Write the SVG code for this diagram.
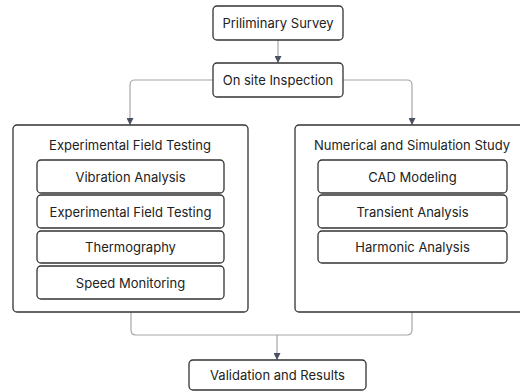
<svg xmlns="http://www.w3.org/2000/svg" width="520" height="392" viewBox="0 0 520 392">
<defs>
<style>
.box{fill:#fff;stroke:#333;stroke-width:1.3}
.t{font-family:Inter,"Liberation Sans",sans-serif;font-size:13px;fill:#222;text-anchor:middle;dominant-baseline:central}
.c{fill:none;stroke:#a6a6a6;stroke-width:1.2}
</style>
<marker id="ah" viewBox="0 0 10 10" refX="10" refY="5" markerWidth="7" markerHeight="7" orient="auto" markerUnits="userSpaceOnUse">
<path d="M0,0 L10,5 L0,10 z" fill="#4a5160"/>
</marker>
</defs>
<rect width="520" height="392" fill="#fff"/>
<g id="connectors">
<path class="c" d="M278,40 V63" marker-end="url(#ah)"/>
<path class="c" d="M213,80 H135 Q130,80 130,85 V125" marker-end="url(#ah)"/>
<path class="c" d="M343,80 H407 Q412,80 412,85 V125" marker-end="url(#ah)"/>
<path class="c" d="M131,312 V330 Q131,335 136,335 H407 Q412,335 412,330 V312"/>
<path class="c" d="M277,335 V360" marker-end="url(#ah)"/>
</g>
<g id="n1"><rect class="box" x="213" y="6" width="130" height="34" rx="4"/><text class="t" x="278" y="23">Priliminary Survey</text></g>
<g id="n2"><rect class="box" x="213" y="63" width="130" height="34" rx="4"/><text class="t" x="278" y="80">On site Inspection</text></g>
<g id="g1"><rect class="box" x="13" y="125" width="235" height="187" rx="4"/><text class="t" x="130" y="145">Experimental Field Testing</text></g>
<g id="n3"><rect class="box" x="37" y="160" width="187" height="33" rx="4"/><text class="t" x="130.5" y="176.5">Vibration Analysis</text></g>
<g id="n4"><rect class="box" x="37" y="195" width="187" height="33" rx="4"/><text class="t" x="130.5" y="211.5">Experimental Field Testing</text></g>
<g id="n5"><rect class="box" x="37" y="231" width="187" height="32" rx="4"/><text class="t" x="130.5" y="247">Thermography</text></g>
<g id="n6"><rect class="box" x="37" y="266" width="187" height="33" rx="4"/><text class="t" x="130.5" y="282.5">Speed Monitoring</text></g>
<g id="g2"><rect class="box" x="295" y="125" width="234" height="187" rx="4"/><text class="t" x="412" y="145">Numerical and Simulation Study</text></g>
<g id="n7"><rect class="box" x="318" y="160" width="189" height="33" rx="4"/><text class="t" x="412.5" y="176.5">CAD Modeling</text></g>
<g id="n8"><rect class="box" x="318" y="195" width="189" height="33" rx="4"/><text class="t" x="412.5" y="211.5">Transient Analysis</text></g>
<g id="n9"><rect class="box" x="318" y="231" width="189" height="32" rx="4"/><text class="t" x="412.5" y="247">Harmonic Analysis</text></g>
<g id="n10"><rect class="box" x="189" y="360" width="177" height="30" rx="4"/><text class="t" x="277.5" y="375">Validation and Results</text></g>
</svg>
